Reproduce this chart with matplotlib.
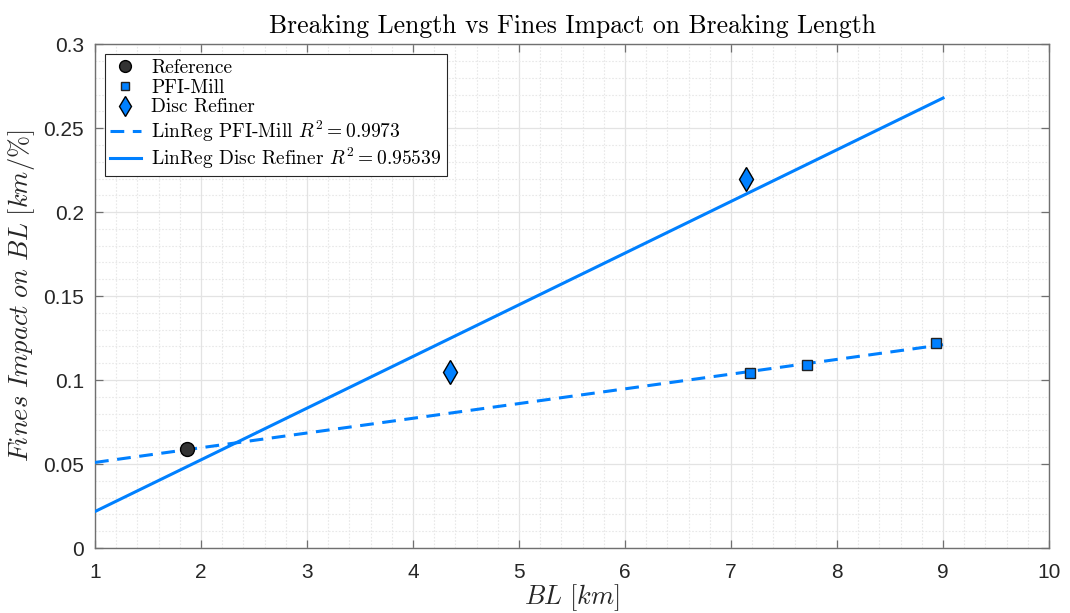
import numpy as np
import matplotlib
matplotlib.use("Agg")
import matplotlib.pyplot as plt
from matplotlib.ticker import MultipleLocator

plt.rcParams['mathtext.fontset'] = 'cm'
plt.rcParams['axes.unicode_minus'] = False

# Measured points
ref_bl = [1.87]
ref_fi = [0.059]
pfi_bl = [7.18, 7.72, 8.93]
pfi_fi = [0.104, 0.109, 0.122]
disc_bl = [4.35, 7.14]
disc_fi = [0.105, 0.220]

r2_pfi = "0.9973"
r2_disc = "0.95539"

x_ticks = [1, 2, 3, 4, 5, 6, 7, 8, 9, 10]
y_ticks = [0, 0.05, 0.1, 0.15, 0.2, 0.25, 0.3]
y_tick_labels = ['0', '0.05', '0.1', '0.15', '0.2', '0.25', '0.3']

blue = '#0080FF'

# Linear regressions (reference point included in both series)
x_pfi = np.array(ref_bl + pfi_bl)
y_pfi = np.array(ref_fi + pfi_fi)
x_disc = np.array(ref_bl + disc_bl)
y_disc = np.array(ref_fi + disc_fi)
p_pfi = np.polyfit(x_pfi, y_pfi, 1)
p_disc = np.polyfit(x_disc, y_disc, 1)
x_fit = np.array([1.0, 9.0])

fig = plt.figure(figsize=(10.70, 6.13), dpi=100)
ax = fig.add_axes([0.0888, 0.106, 0.8916, 0.822])

ax.plot(ref_bl, ref_fi, 'o', ms=10, mfc='#333333', mec='black', mew=1.0,
        label='Reference', zorder=5)
ax.plot(pfi_bl, pfi_fi, 's', ms=7.5, mfc=blue, mec='#222222', mew=1.0,
        label='PFI-Mill', zorder=5)
ax.plot(disc_bl, disc_fi, 'd', ms=12, mfc=blue, mec='black', mew=1.0,
        label='Disc Refiner', zorder=5)
ax.plot(x_fit, np.polyval(p_pfi, x_fit), color=blue, lw=2.2,
        dashes=(4.5, 2.8),
        label=r'LinReg PFI-Mill $R^2 = %s$' % r2_pfi, zorder=4)
ax.plot(x_fit, np.polyval(p_disc, x_fit), color=blue, lw=2.2,
        label=r'LinReg Disc Refiner $R^2 = %s$' % r2_disc, zorder=4)

ax.set_xlim(1, 10)
ax.set_ylim(0, 0.3)
ax.set_xticks(x_ticks)
ax.set_xticklabels([str(v) for v in x_ticks])
ax.set_yticks(y_ticks)
ax.set_yticklabels(y_tick_labels)
ax.xaxis.set_minor_locator(MultipleLocator(0.2))
ax.yaxis.set_minor_locator(MultipleLocator(0.01))

ax.grid(True, which='major', color='#e3e3e3', lw=0.9, ls='-')
ax.grid(True, which='minor', color='#e8e8e8', lw=0.8, ls=(0, (1.5, 1.5)))
ax.set_axisbelow(True)

edge = '#707070'
for s in ax.spines.values():
    s.set_color(edge)
    s.set_linewidth(1.0)
ax.tick_params(which='major', direction='in', length=6, width=0.9,
               color=edge, labelcolor='#262626', labelsize=15,
               top=True, right=True, pad=8)
ax.tick_params(axis='x', which='major', pad=11)
ax.tick_params(which='minor', length=0)
for lab in ax.get_xticklabels() + ax.get_yticklabels():
    lab.set_family(['Liberation Sans', 'DejaVu Sans'])

ax.set_title('Breaking Length vs Fines Impact on Breaking Length',
             family='cmr10', fontsize=18.5, color='black', pad=8)
ax.set_xlabel(r'$BL\ [km]$', fontsize=19, color='#262626', labelpad=0)
ax.set_ylabel(r'$Fines\ Impact\ on\ BL\ [km/\%]$', fontsize=19,
              color='#262626', labelpad=4)

leg = ax.legend(loc='upper left', bbox_to_anchor=(0.0, 1.0),
                prop={'family': 'cmr10', 'size': 14},
                fancybox=False, framealpha=1, edgecolor='#262626',
                borderpad=0.25, labelspacing=0.1, handlelength=1.6,
                handletextpad=0.55, borderaxespad=0.5, markerscale=0.85)
leg.get_frame().set_linewidth(0.8)

fig.savefig('out.png', dpi=100)
